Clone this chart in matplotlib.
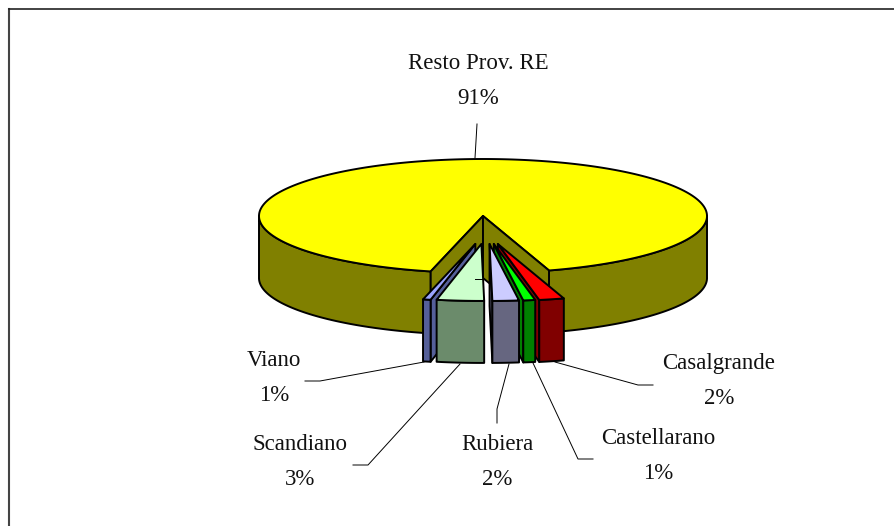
import numpy as np
import matplotlib
matplotlib.use("Agg")
import matplotlib.pyplot as plt
from matplotlib.patches import Polygon

names = ["Resto Prov. RE", "Viano", "Scandiano", "Rubiera", "Castellarano", "Casalgrande"]
values = [91.49, 0.55, 3.4, 1.9, 0.86, 1.8]
top_colors = ["#FFFF00", "#9AA5FF", "#CCFFCC", "#CCCCFF", "#00FF00", "#FF0000"]
side_colors = ["#808000", "#555F99", "#6B8B6B", "#666680", "#008000", "#800000"]

# projected pie geometry, in pixels
cx, cy = 483, 216
rx, ry = 224, 57
depth = 62
explode_x, explode_y = 0.22, 0.49
slice_shift = 3
first_angle = -13.5

# label text centre and leader line for each slice
label_pos = [(478, 81), (274, 378), (300, 462), (497, 462), (658, 456), (719, 381)]
leaders = [
    [(475, 158), (477, 124)],
    [(305, 381), (320, 381), (424, 362)],
    [(353, 465), (368, 465), (460, 364)],
    [(497, 423), (497, 409), (509, 364)],
    [(593, 459), (578, 459), (533, 363)],
    [(653, 385), (638, 385), (555, 362)],
    [(475, 279), (485, 279)],
]

plt.rcParams["font.family"] = ["Liberation Serif", "DejaVu Serif"]

fig = plt.figure(figsize=(8.95, 5.26), dpi=100)
ax = fig.add_axes([0, 0, 1, 1])
ax.set_xlim(0, 895)
ax.set_ylim(526, 0)
ax.axis("off")

# chart frame, only top and left fall inside the picture
ax.plot([9.5, 9.5], [526, 8.5], color="#444444", lw=1.5)
ax.plot([9.5, 895], [8.5, 8.5], color="#222222", lw=1.2)


def rim(x0, y0, a1, a2):
    t = np.radians(np.linspace(a1, a2, 400))
    return np.column_stack([x0 + rx * np.sin(t), y0 + ry * np.cos(t)])


def draw_poly(pts, color, z):
    ax.add_patch(Polygon(pts, closed=True, facecolor=color, edgecolor="black", lw=1.4, joinstyle="round", zorder=z))


def draw_front(x0, y0, a1, a2, side, z):
    arc = rim(x0, y0, a1, a2)
    draw_poly(np.vstack([arc, (arc + [0, depth])[::-1]]), side, z)


def draw_slice(x0, y0, a1, a2, top, side, z):
    arc = rim(x0, y0, a1, a2)
    apex = np.array([x0, y0])
    down = np.array([0, depth])
    # radial walls, only the ones facing the viewer
    if a1 > 0:
        draw_poly([apex, arc[0], arc[0] + down, apex + down], side, z)
    if a2 < 0:
        draw_poly([apex, arc[-1], arc[-1] + down, apex + down], side, z)
    draw_front(x0, y0, a1, a2, side, z)
    draw_poly(np.vstack([[apex], arc]), top, z + 0.5)


angles = np.cumsum([0] + values[1:]) * 3.6 + first_angle

# main slice goes round the back, so its wall shows on both sides of the gap
draw_front(cx, cy, angles[-1], 90, side_colors[0], 1)
draw_front(cx, cy, -90, first_angle, side_colors[0], 1)
draw_poly(np.vstack([[[cx, cy]], rim(cx, cy, angles[-1], first_angle + 360)]), top_colors[0], 1.5)
for a in [first_angle, angles[-1]]:
    p = rim(cx, cy, a, a)[0]
    draw_poly([[cx, cy], p, p + [0, depth], [cx, cy + depth]], side_colors[0], 2)

# outer slices first so the inner ones sit on top
order = [5, 4, 3, 1, 2]
for n, i in enumerate(order):
    a1, a2 = angles[i - 1], angles[i]
    mid = np.radians((a1 + a2) / 2)
    x0 = cx + slice_shift + explode_x * rx * np.sin(mid)
    y0 = cy + explode_y * ry
    draw_slice(x0, y0, a1, a2, top_colors[i], side_colors[i], 3 + n)

for line in leaders:
    xs, ys = zip(*line)
    ax.plot(xs, ys, color="black", lw=0.7, zorder=20)

for name, v, (x, y) in zip(names, values, label_pos):
    ax.text(x, y, f"{name}\n{v:.0f}%", ha="center", va="center", fontsize=16.5, color="#111111",
            linespacing=1.9, zorder=21)

fig.savefig("out.png", dpi=100)
